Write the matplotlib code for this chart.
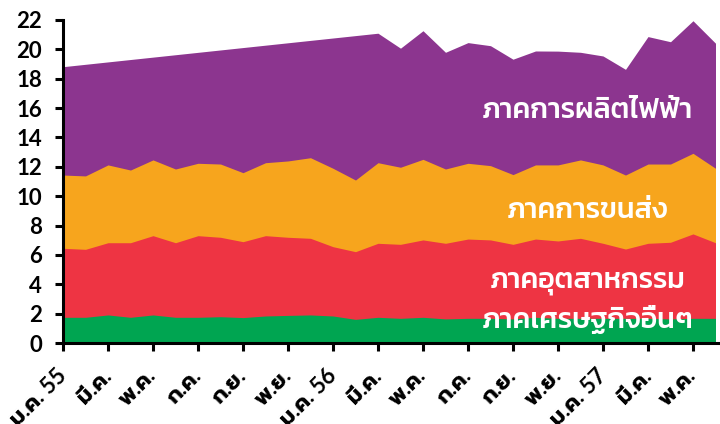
import numpy as np
import matplotlib
matplotlib.use("Agg")
import matplotlib.pyplot as plt

plt.rcParams["font.family"] = ["Kanit", "DejaVu Sans"]

# Monthly CO2 emissions by sector (million tonnes), Jan 2555 - Jun 2557
months = np.arange(30)
tick_labels = ["ม.ค. 55", "มี.ค.", "พ.ค.", "ก.ค.", "ก.ย.", "พ.ย.",
               "ม.ค. 56", "มี.ค.", "พ.ค.", "ก.ค.", "ก.ย.", "พ.ย.",
               "ม.ค. 57", "มี.ค.", "พ.ค."]

others = [1.75, 1.75, 1.91, 1.75, 1.91, 1.75, 1.75, 1.79, 1.73, 1.84,
          1.88, 1.91, 1.84, 1.61, 1.75, 1.68, 1.75, 1.64, 1.68, 1.68,
          1.64, 1.75, 1.68, 1.68, 1.68, 1.68, 1.68, 1.64, 1.68, 1.68]
industry = [4.70, 4.63, 4.92, 5.08, 5.40, 5.08, 5.56, 5.41, 5.17, 5.47,
            5.32, 5.22, 4.72, 4.61, 5.04, 5.04, 5.27, 5.15, 5.40, 5.34,
            5.08, 5.33, 5.27, 5.45, 5.11, 4.72, 5.11, 5.22, 5.75, 5.15]
transport = [4.99, 5.00, 5.30, 4.95, 5.16, 5.02, 4.93, 4.99, 4.70, 4.97,
             5.20, 5.49, 5.34, 4.88, 5.49, 5.25, 5.49, 5.06, 5.16, 5.06,
             4.75, 5.05, 5.18, 5.34, 5.34, 5.04, 5.40, 5.33, 5.49, 5.07]
nan = np.nan
power = [7.38, nan, nan, nan, nan, nan, nan, nan, nan, nan,
         nan, nan, nan, nan, 8.82, 8.11, 8.76, 7.95, 8.22, 8.17,
         7.86, 7.76, 7.75, 7.33, 7.42, 7.20, 8.68, 8.33, 9.03, 8.52]

sector_names = ["ภาคการผลิตไฟฟ้า", "ภาคการขนส่ง", "ภาคอุตสาหกรรม", "ภาคเศรษฐกิจอื่นๆ"]

c_power = "#8C358F"
c_transport = "#F7A51D"
c_industry = "#EE3443"
c_others = "#00A551"

lvl_others = np.array(others)
lvl_industry = lvl_others + np.array(industry)
lvl_transport = lvl_industry + np.array(transport)
lvl_total = lvl_transport + np.array(power)
valid = ~np.isnan(lvl_total)

fig = plt.figure(figsize=(7.2, 4.24), dpi=100)
ax = fig.add_axes([63 / 720, 81 / 424, 657 / 720, 323 / 424])

# layers drawn back to front, each from zero so no seams appear
ax.fill_between(months[valid], 0, lvl_total[valid], color=c_power, lw=0)
ax.fill_between(months, 0, lvl_transport, color=c_transport, lw=0)
ax.fill_between(months, 0, lvl_industry, color=c_industry, lw=0)
ax.fill_between(months, 0, lvl_others, color=c_others, lw=0)

ax.set_xlim(0, 29.2)
ax.set_ylim(0, 22)
ax.set_yticks(np.arange(0, 23, 2))
ax.set_xticks(months[::2])
ax.set_xticklabels(tick_labels, rotation=45, ha="right", va="center",
                   rotation_mode="anchor")

for s in ("top", "right"):
    ax.spines[s].set_visible(False)
for s in ("left", "bottom"):
    ax.spines[s].set_linewidth(2.2)
    ax.spines[s].set_color("black")
ax.tick_params(axis="y", length=6, width=2.2, labelsize=16, pad=9)
ax.tick_params(axis="x", length=6, width=2.2, labelsize=16, pad=15)
for lab in ax.get_yticklabels() + ax.get_xticklabels():
    lab.set_fontweight("bold")
    lab.set_family(["Lato", "Prompt", "DejaVu Sans"])

label_kw = dict(color="white", fontsize=20.5, fontweight="medium",
                ha="center", va="baseline")
label_pos = [(23.3, 15.33), (23.3, 8.5), (23.3, 3.75), (23.3, 1.02)]
for name, (x, y) in zip(sector_names, label_pos):
    ax.text(x, y, name, **label_kw)

fig.savefig("out.png", dpi=100)
